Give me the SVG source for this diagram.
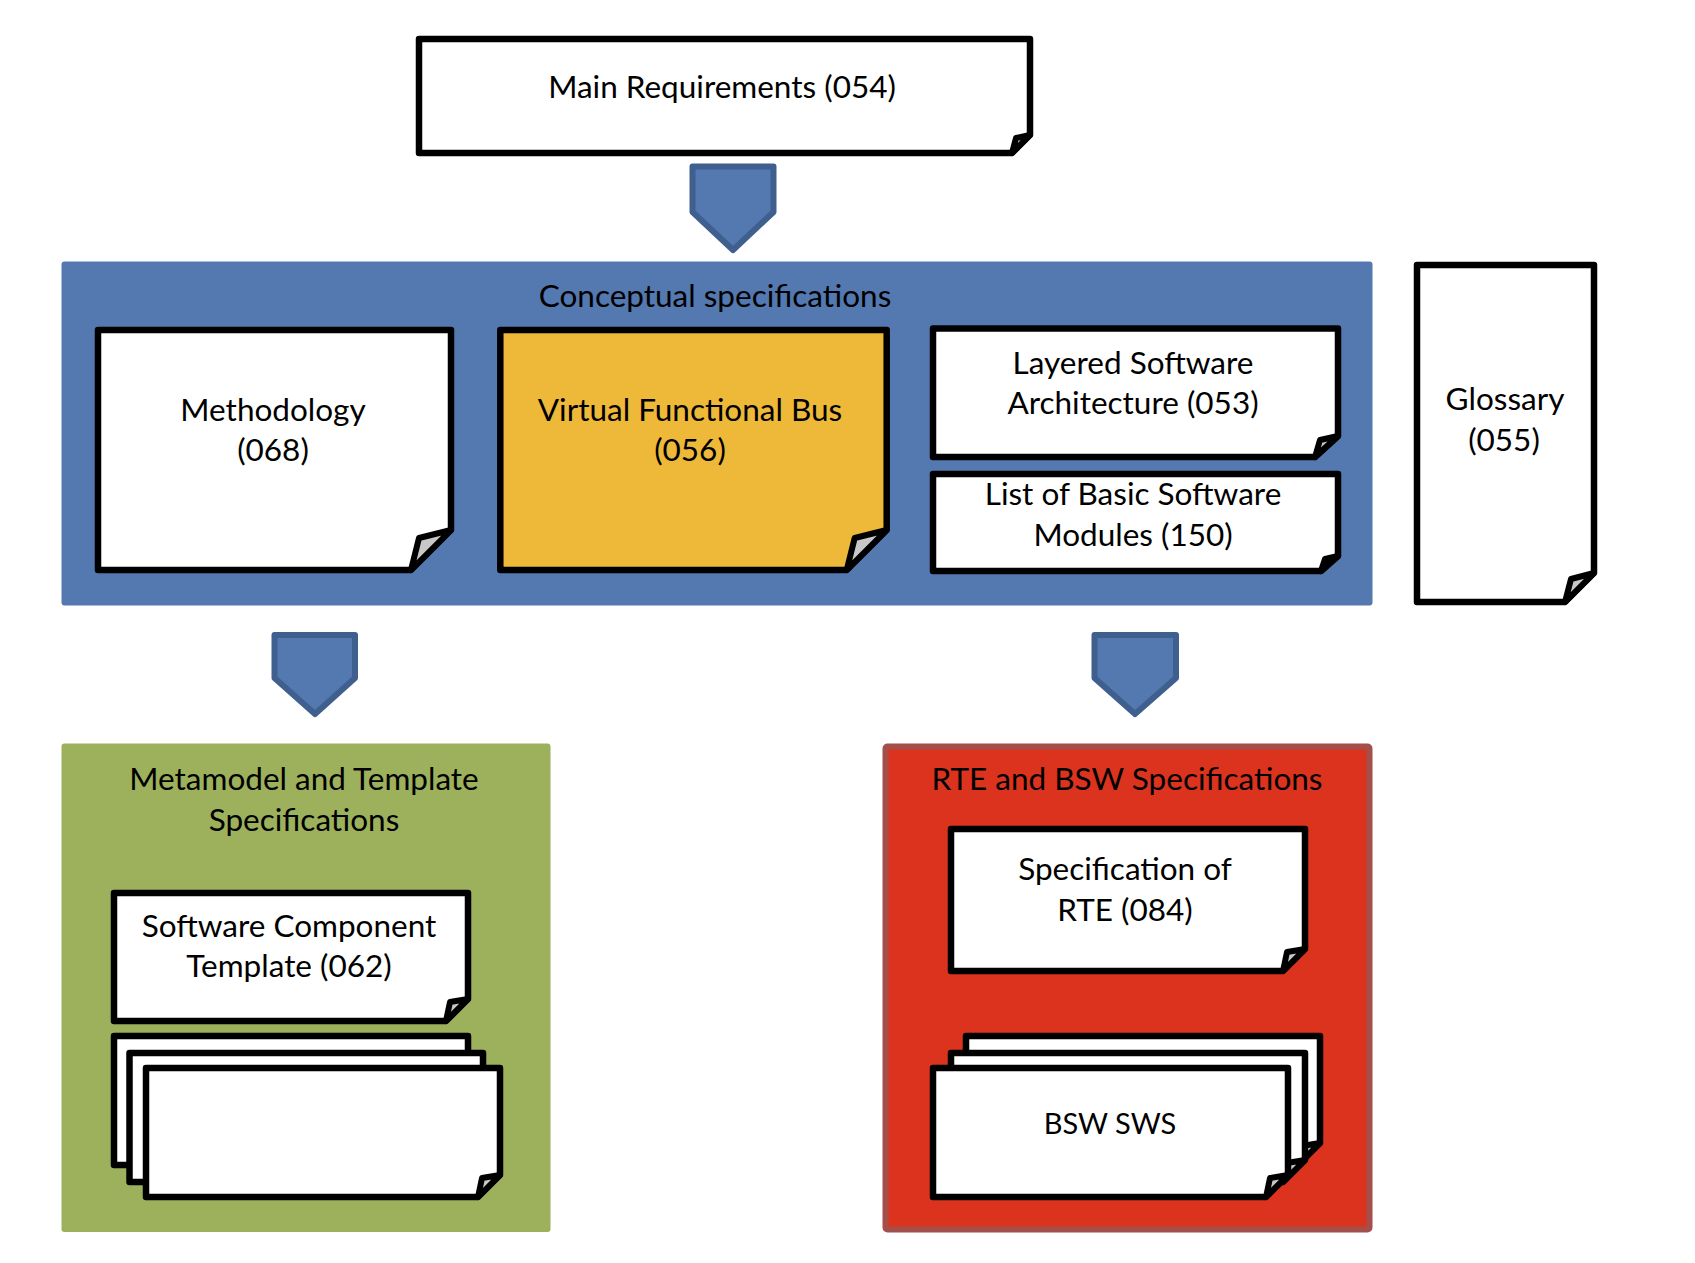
<svg xmlns="http://www.w3.org/2000/svg" width="1695" height="1263" viewBox="0 0 1695 1263">
<style>
text{font-family:Lato,"Open Sans","Liberation Sans",sans-serif;font-size:31.5px;fill:#000;text-anchor:middle}
.page{fill:#fff;stroke:#000;stroke-width:6.5;stroke-linejoin:round}
.amber{fill:#eeb838}
.fold{fill:#c8c8c8;stroke:#000;stroke-width:6;stroke-linejoin:round}
.arrow{fill:#5478b0;stroke:#3f5f8f;stroke-width:6;stroke-linejoin:round}
</style>
<rect width="1695" height="1263" fill="#fff"/>
<g id="panel-conceptual"><rect x="61.5" y="261.5" width="1311" height="344" rx="3" fill="#5478b0"/><text x="715" y="307">Conceptual specifications</text></g>
<g id="panel-metamodel"><rect x="61.5" y="743.5" width="489" height="488.5" rx="3" fill="#9db05b"/><text x="304" y="790">Metamodel and Template</text><text x="304" y="831">Specifications</text></g>
<g id="panel-rte-bsw"><rect x="885.5" y="746.5" width="484" height="483" rx="2" fill="#db331e" stroke="#a44f4a" stroke-width="6"/><text x="1127" y="790">RTE and BSW Specifications</text></g>
<g id="connectors">
<path class="arrow" d="M692.5 166.500H773.500V212L733 250L692.5 212Z"/>
<path class="arrow" d="M274.5 635H355V678L315 714L274.5 678Z"/>
<path class="arrow" d="M1094.5 635H1176V678L1135 714L1094.5 678Z"/>
</g>
<g id="main-requirements"><path class="page" d="M419 39H1030V135L1012 153H419Z"/><path class="fold" d="M1012 153L1016 138L1030 135Z"/><text x="722" y="98">Main Requirements (054)</text></g>
<g id="methodology"><path class="page" d="M98 330H451V530L411 570H98Z"/><path class="fold" d="M411 570L419 538L451 530Z"/><text x="273" y="420.500">Methodology</text><text x="273" y="460.500">(068)</text></g>
<g id="vfb"><path class="page amber" d="M500.300 330H886.700V530L846.700 570H500.300Z"/><path class="fold amber" d="M846.700 570L854.700 538L886.700 530Z"/><text x="690" y="420.500">Virtual Functional Bus</text><text x="690" y="460.500">(056)</text></g>
<g id="layered"><path class="page" d="M933 328.500H1338V436L1315 457H933Z"/><path class="fold" d="M1315 457L1320 440L1338 436Z"/><text x="1133" y="374">Layered Software</text><text x="1133" y="414">Architecture (053)</text></g>
<g id="basic-modules"><path class="page" d="M933 474H1338V556L1321 571H933Z"/><path class="fold" d="M1321 571L1325 559L1338 556Z"/><text x="1133" y="505">List of Basic Software</text><text x="1133" y="545.500">Modules (150)</text></g>
<g id="glossary"><path class="page" d="M1417 265H1594V573L1565 602H1417Z"/><path class="fold" d="M1565 602L1571 579L1594 573Z"/><text x="1505" y="409.500">Glossary</text><text x="1504" y="450.500">(055)</text></g>
<g id="software-component"><path class="page" d="M114 893H468V999L446 1021H114Z"/><path class="fold" d="M446 1021L450 1002L468 999Z"/><text x="289" y="937">Software Component</text><text x="289" y="977">Template (062)</text></g>
<g id="metamodel-stack">
<path class="page" d="M114 1036H468V1143L446 1165H114Z"/><path class="fold" d="M446 1165L450 1146L468 1143Z"/>
<path class="page" d="M129.500 1053H483V1160L461 1182H129.500Z"/><path class="fold" d="M461 1182L465 1163L483 1160Z"/>
<path class="page" d="M146 1068H500V1175L478 1197H146Z"/><path class="fold" d="M478 1197L482 1178L500 1175Z"/>
</g>
<g id="spec-rte"><path class="page" d="M951 829H1305V949L1283 971H951Z"/><path class="fold" d="M1283 971L1287 952L1305 949Z"/><text x="1125" y="880">Specification of</text><text x="1125" y="921">RTE (084)</text></g>
<g id="bsw-sws">
<path class="page" d="M966 1036H1320V1143L1298 1165H966Z"/><path class="fold" d="M1298 1165L1302 1146L1320 1143Z"/>
<path class="page" d="M951 1053H1305V1160L1283 1182H951Z"/><path class="fold" d="M1283 1182L1287 1163L1305 1160Z"/>
<path class="page" d="M933 1068H1288V1175L1266 1197H933Z"/><path class="fold" d="M1266 1197L1270 1178L1288 1175Z"/>
<text x="1110" y="1134" style="font-size:29px">BSW SWS</text>
</g>
</svg>
